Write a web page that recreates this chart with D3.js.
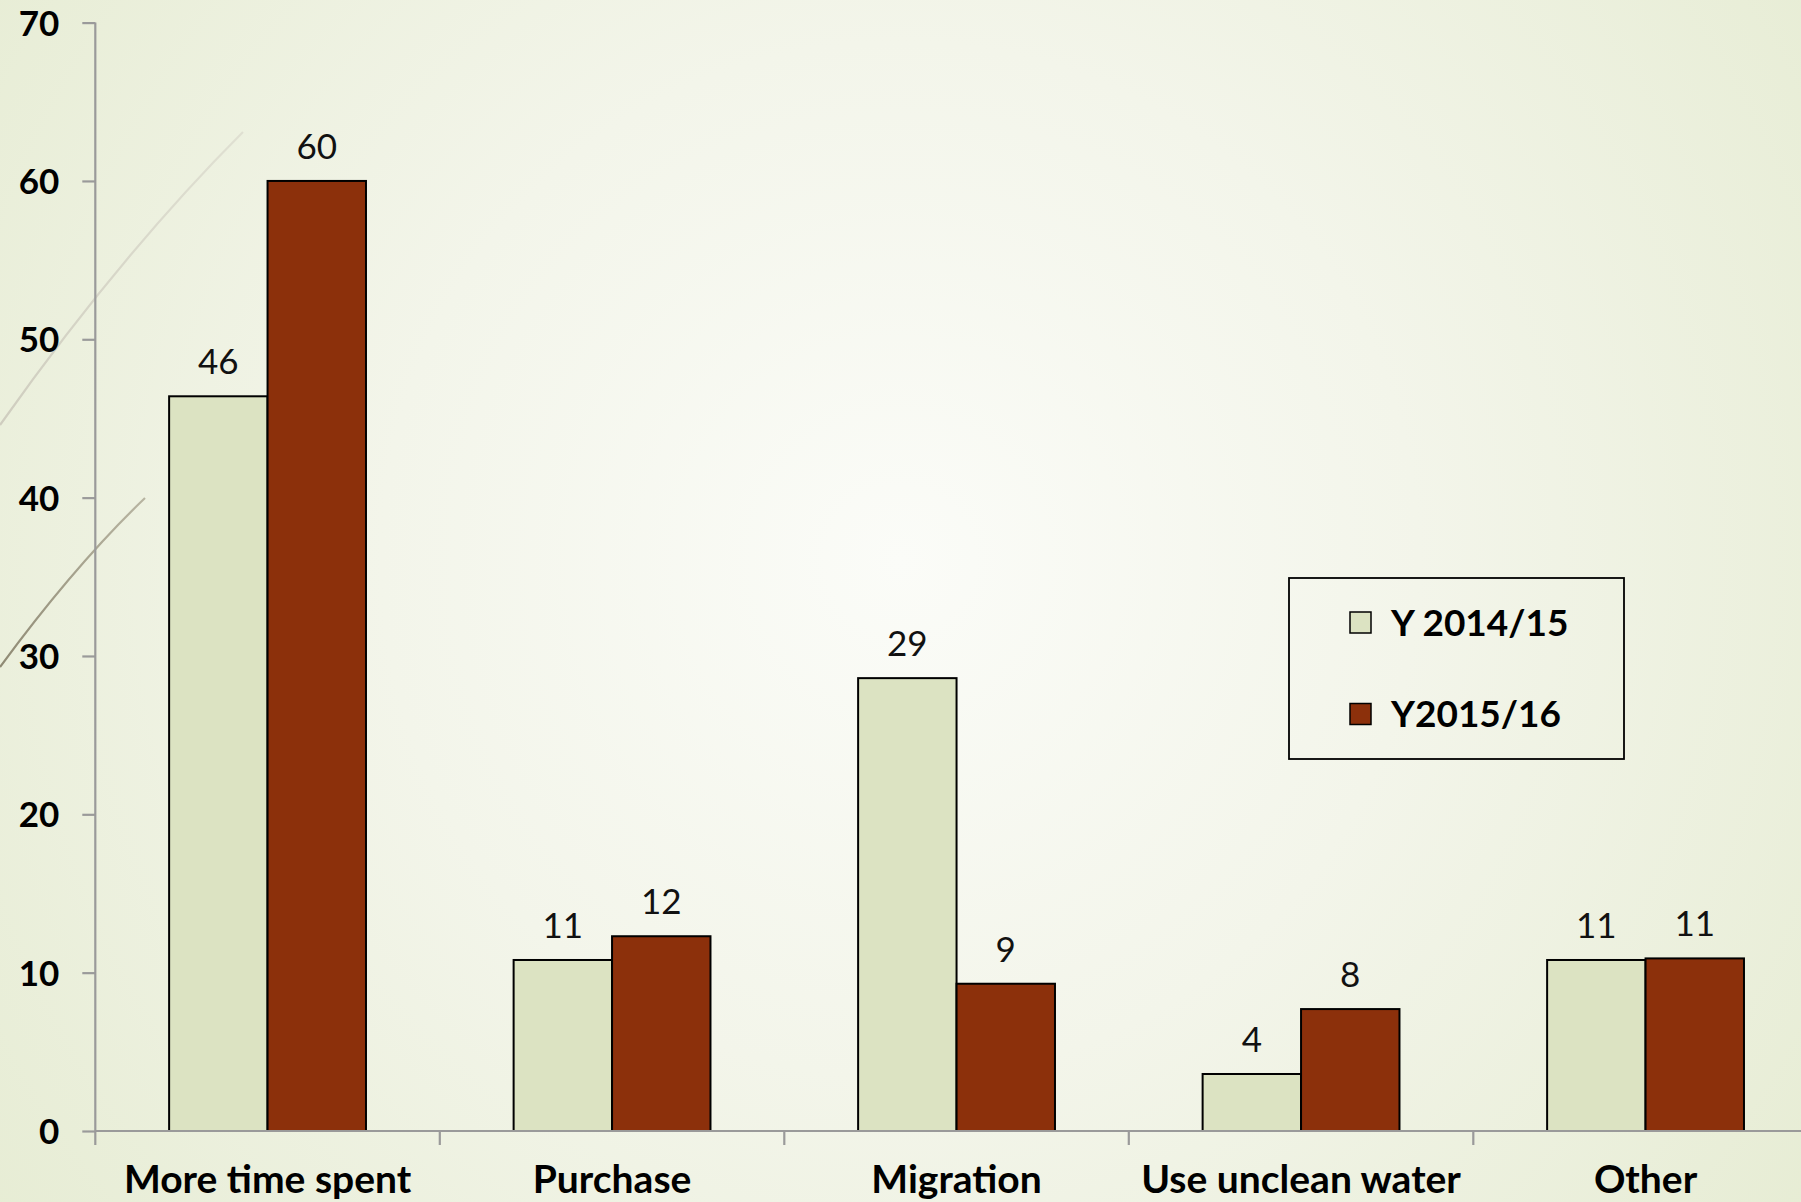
<!DOCTYPE html>
<html>
<head>
<meta charset="utf-8">
<script src="https://cdn.jsdelivr.net/npm/d3@7"></script>
<style>
  html, body { margin: 0; padding: 0; overflow: hidden; }
  svg { display: block; }
</style>
</head>
<body>
<svg id="chart" width="1801" height="1202"></svg>
<script>
// ---- data ----
const categories = ["More time spent", "Purchase", "Migration", "Use unclean water", "Other"];
const seriesNames = ["Y 2014/15", "Y2015/16"];
const values2014 = [46.4, 10.8, 28.6, 3.6, 10.8];
const values2015 = [60.0, 12.3, 9.3, 7.7, 10.9];
const labels2014 = ["46", "11", "29", "4", "11"];
const labels2015 = ["60", "12", "9", "8", "11"];
const yTicks = [0, 10, 20, 30, 40, 50, 60, 70];

const colors = ["#dce3c2", "#8c300b"];

const W = 1801, H = 1202;
const svg = d3.select("#chart");

// background radial gradient
const defs = svg.append("defs");
const rg = defs.append("radialGradient").attr("id", "bg")
  .attr("gradientUnits", "userSpaceOnUse")
  .attr("cx", 900).attr("cy", 560).attr("r", 1150);
rg.append("stop").attr("offset", "0%").attr("stop-color", "#fbfcf8");
rg.append("stop").attr("offset", "45%").attr("stop-color", "#f3f5ea");
rg.append("stop").attr("offset", "100%").attr("stop-color", "#e6ecd3");
svg.append("rect").attr("width", W).attr("height", H).attr("fill", "url(#bg)");

// decorative curves (theme ornaments)
const lg1 = defs.append("linearGradient").attr("id", "orn1")
  .attr("gradientUnits", "userSpaceOnUse").attr("x1", 0).attr("y1", 425).attr("x2", 243).attr("y2", 132);
lg1.append("stop").attr("offset", "0%").attr("stop-color", "#cfcdbf").attr("stop-opacity", 1);
lg1.append("stop").attr("offset", "100%").attr("stop-color", "#d6d4c8").attr("stop-opacity", 0.6);
svg.append("path")
  .attr("d", "M0,425 Q120,255 243,132")
  .attr("fill", "none").attr("stroke", "url(#orn1)").attr("stroke-width", 2.2);
const lg2 = defs.append("linearGradient").attr("id", "orn2")
  .attr("gradientUnits", "userSpaceOnUse").attr("x1", 0).attr("y1", 667).attr("x2", 145).attr("y2", 498);
lg2.append("stop").attr("offset", "0%").attr("stop-color", "#8f8a74").attr("stop-opacity", 1);
lg2.append("stop").attr("offset", "100%").attr("stop-color", "#a09a86").attr("stop-opacity", 0.7);
svg.append("path")
  .attr("d", "M0,667 Q75,565 145,498")
  .attr("fill", "none").attr("stroke", "url(#orn2)").attr("stroke-width", 2.2);

// scales
const x0 = d3.scaleBand().domain(categories).range([95.3, 95.3 + 5 * 344.5]).padding(0);
const x1 = d3.scaleBand().domain(seriesNames).range([0, x0.bandwidth()]).paddingInner(0).paddingOuter(0.75);
const y = d3.scaleLinear().domain([0, 70]).range([1131, 22.6]);

const data = categories.map((c, i) => ({
  cat: c,
  vals: [
    { s: seriesNames[0], v: values2014[i], lab: labels2014[i], k: 0 },
    { s: seriesNames[1], v: values2015[i], lab: labels2015[i], k: 1 }
  ]
}));

// bars
const groups = svg.append("g").selectAll("g").data(data).join("g")
  .attr("transform", d => `translate(${x0(d.cat)},0)`);
groups.selectAll("rect").data(d => d.vals).join("rect")
  .attr("x", d => x1(d.s))
  .attr("y", d => y(d.v))
  .attr("width", x1.bandwidth())
  .attr("height", d => y(0) - y(d.v))
  .attr("fill", d => colors[d.k])
  .attr("stroke", "#000").attr("stroke-width", 2);
groups.selectAll("text").data(d => d.vals).join("text")
  .attr("x", d => x1(d.s) + x1.bandwidth() / 2)
  .attr("y", d => y(d.v) - 22)
  .attr("text-anchor", "middle")
  .attr("font-family", "Lato, 'Open Sans', sans-serif")
  .attr("font-size", 35)
  .attr("fill", "#111")
  .text(d => d.lab);

// y axis
const yAxis = svg.append("g").attr("transform", "translate(95.3,0)")
  .call(d3.axisLeft(y).tickValues(yTicks).tickSize(13).tickPadding(23).tickFormat(d3.format("d")));
yAxis.select(".domain").attr("stroke", "#9a9a9a").attr("stroke-width", 2.2)
  .attr("d", `M0,${y(70)}V${y(0)}`);
yAxis.selectAll(".tick line").attr("stroke", "#9a9a9a").attr("stroke-width", 2.2);
yAxis.selectAll(".tick text")
  .attr("font-family", "Lato, sans-serif").attr("font-weight", 700)
  .attr("font-size", 35).attr("fill", "#000").attr("dy", "0.36em");

// x axis
const xAxis = svg.append("g").attr("transform", `translate(0,${y(0)})`)
  .call(d3.axisBottom(x0).tickSize(0).tickPadding(0));
xAxis.select(".domain").attr("stroke", "#9a9a9a").attr("stroke-width", 2.2)
  .attr("d", `M${x0.range()[0]},0H${x0.range()[1]}`);
xAxis.selectAll(".tick text")
  .attr("y", 62).attr("dy", 0)
  .attr("font-family", "Lato, sans-serif").attr("font-weight", 700)
  .attr("font-size", 39).attr("fill", "#000");
// band boundary ticks
const boundaries = categories.map(c => x0(c)).concat([x0(categories[categories.length - 1]) + x0.bandwidth()]);
xAxis.selectAll("line.bt").data(boundaries).join("line").attr("class", "bt")
  .attr("x1", d => d).attr("x2", d => d).attr("y1", 0).attr("y2", 14)
  .attr("stroke", "#9a9a9a").attr("stroke-width", 2.2);

// legend
const leg = svg.append("g");
leg.append("rect").attr("x", 1289).attr("y", 578).attr("width", 335).attr("height", 181)
  .attr("fill", "none").attr("stroke", "#000").attr("stroke-width", 1.8);
const items = leg.selectAll("g.item").data(seriesNames).join("g").attr("class", "item")
  .attr("transform", (d, i) => `translate(1350,${622.5 + i * 91.5})`);
items.append("rect").attr("x", 0).attr("y", -10.5).attr("width", 21).attr("height", 21)
  .attr("fill", (d, i) => colors[i]).attr("stroke", "#000").attr("stroke-width", 1.5);
items.append("text").attr("x", 41).attr("y", 0).attr("dy", "0.36em")
  .attr("font-family", "Lato, sans-serif").attr("font-weight", 700)
  .attr("font-size", 37).attr("fill", "#000")
  .text(d => d);
</script>
</body>
</html>
